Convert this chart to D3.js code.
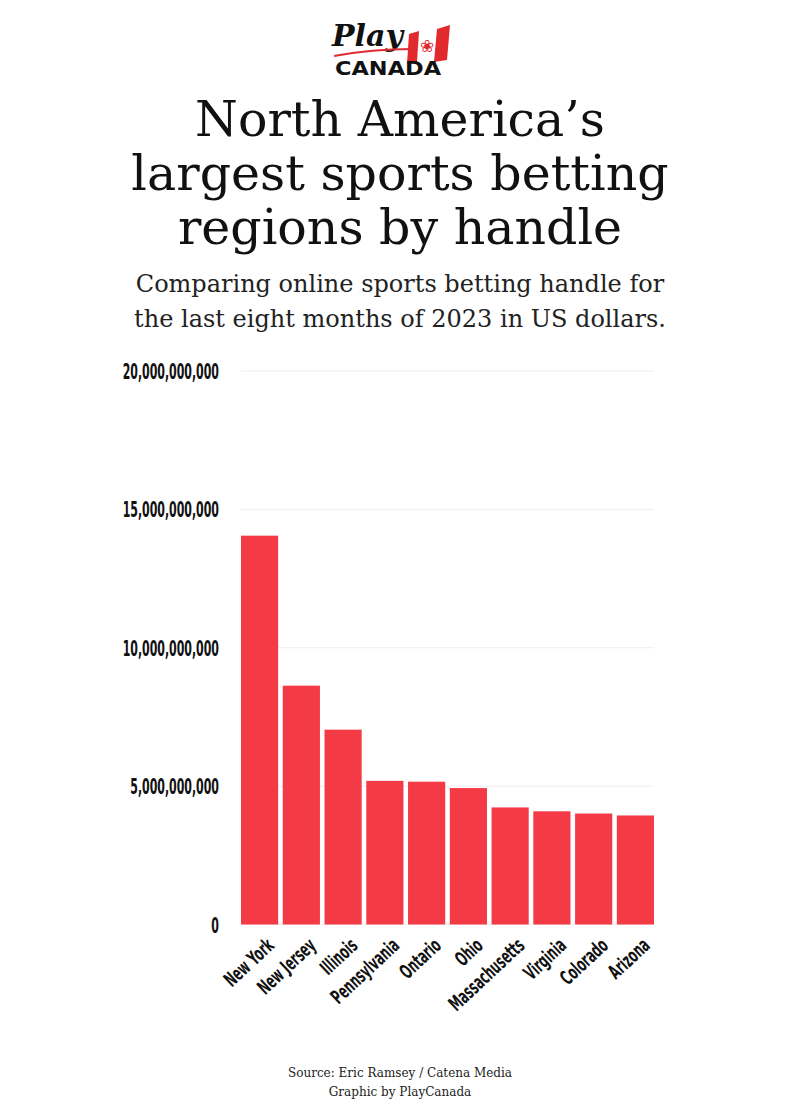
<!DOCTYPE html>
<html>
<head>
<meta charset="utf-8">
<script src="https://cdn.jsdelivr.net/npm/d3@7"></script>
<style>
  body { margin: 0; background: #fff; }
  svg { display: block; }
</style>
</head>
<body>
<div id="chart"></div>
<script>
'use strict';

const regions = ['New York', 'New Jersey', 'Illinois', 'Pennsylvania', 'Ontario', 'Ohio', 'Massachusetts', 'Virginia', 'Colorado', 'Arizona'];
const handle = [14050000000, 8630000000, 7040000000, 5190000000, 5160000000, 4930000000, 4230000000, 4090000000, 4010000000, 3940000000];
const yTicks = [0, 5000000000, 10000000000, 15000000000, 20000000000];
const titleLines = ['North America\u2019s', 'largest sports betting', 'regions by handle'];
const subtitleLines = ['Comparing online sports betting handle for', 'the last eight months of 2023 in US dollars.'];
const footerLines = ['Source: Eric Ramsey / Catena Media', 'Graphic by PlayCanada'];

const width = 800, height = 1120;
const margin = { top: 371, left: 241, right: 146, bottom: 196 };
const barColor = '#f43a45';
const condensed = "'DejaVu Sans Condensed', 'Liberation Sans Narrow', sans-serif";
const serif = "'DejaVu Serif', 'Liberation Serif', serif";

const svg = d3.select('#chart').append('svg')
  .attr('width', width)
  .attr('height', height);

// squeeze text horizontally, like a condensed display face
function squeeze(sel, factor) {
  sel.each(function () {
    const w = this.getComputedTextLength();
    d3.select(this)
      .attr('textLength', w * factor)
      .attr('lengthAdjust', 'spacingAndGlyphs');
  });
}

// logo
const logo = svg.append('g').attr('transform', 'translate(332, 20)');
logo.append('path')
  .attr('d', 'M77 14 L87 11 L85 42 L75 44 Z')
  .attr('fill', '#e02a2e');
logo.append('path')
  .attr('d', 'M105 9 L118 5 L115 40 L102 42 Z')
  .attr('fill', '#e02a2e');
logo.append('text')
  .attr('x', 95).attr('y', 32)
  .attr('text-anchor', 'middle')
  .attr('fill', '#e02a2e')
  .style('font-size', '17px')
  .text('\u2740');
logo.append('text')
  .attr('x', 0).attr('y', 26)
  .style('font-family', serif)
  .style('font-style', 'italic')
  .style('font-weight', 'bold')
  .style('font-size', '30px')
  .attr('fill', '#111')
  .text('Play');
logo.append('path')
  .attr('d', 'M2 36 Q40 29 80 29')
  .attr('fill', 'none')
  .attr('stroke', '#e02a2e')
  .attr('stroke-width', 2);
logo.append('text')
  .attr('x', 56).attr('y', 55)
  .attr('text-anchor', 'middle')
  .attr('textLength', 106)
  .attr('lengthAdjust', 'spacingAndGlyphs')
  .style('font-family', "'DejaVu Sans', sans-serif")
  .style('font-weight', 'bold')
  .style('font-size', '20px')
  .attr('fill', '#111')
  .text('CANADA');

// titles
svg.append('g').selectAll('text')
  .data(titleLines)
  .join('text')
  .attr('x', width / 2)
  .attr('y', (d, i) => 136 + i * 54)
  .attr('text-anchor', 'middle')
  .style('font-family', serif)
  .style('font-size', '49px')
  .attr('fill', '#111')
  .text(d => d);

svg.append('g').selectAll('text')
  .data(subtitleLines)
  .join('text')
  .attr('x', width / 2)
  .attr('y', (d, i) => 292 + i * 35)
  .attr('text-anchor', 'middle')
  .style('font-family', serif)
  .style('font-size', '24px')
  .attr('fill', '#222')
  .text(d => d);

// chart
const plotW = width - margin.left - margin.right;
const plotH = height - margin.top - margin.bottom;

const x = d3.scaleBand()
  .domain(regions)
  .range([0, plotW])
  .paddingInner(0.11)
  .paddingOuter(0);

const y = d3.scaleLinear()
  .domain([0, 20000000000])
  .range([plotH + 0.5, 0]);

const chart = svg.append('g')
  .attr('transform', `translate(${margin.left}, ${margin.top})`);

chart.append('g')
  .selectAll('line')
  .data(yTicks)
  .join('line')
  .attr('x1', 0)
  .attr('x2', plotW)
  .attr('y1', d => y(d))
  .attr('y2', d => y(d))
  .attr('stroke', '#eeeeee')
  .attr('stroke-width', 1);

const yAxis = d3.axisLeft(y)
  .tickValues(yTicks)
  .tickSize(0)
  .tickPadding(22)
  .tickFormat(d3.format(','));

chart.append('g')
  .call(yAxis)
  .call(g => g.select('.domain').remove())
  .call(g => g.selectAll('text')
    .attr('dy', '0.36em')
    .attr('fill', '#111')
    .style('font-family', condensed)
    .style('font-weight', 'bold')
    .style('font-size', '21px')
    .call(squeeze, 0.58));

chart.append('g')
  .selectAll('rect')
  .data(handle)
  .join('rect')
  .attr('x', (d, i) => x(regions[i]))
  .attr('y', d => y(d))
  .attr('width', x.bandwidth())
  .attr('height', d => y(0) - y(d))
  .attr('fill', barColor);

const xAxis = d3.axisBottom(x)
  .tickSize(0)
  .tickPadding(0);

chart.append('g')
  .attr('transform', `translate(0, ${plotH})`)
  .call(xAxis)
  .call(g => g.select('.domain').remove())
  .call(g => g.selectAll('text')
    .attr('text-anchor', 'end')
    .attr('transform', 'translate(11, 18) rotate(-43)')
    .attr('dy', '0.35em')
    .attr('fill', '#111')
    .style('font-family', condensed)
    .style('font-weight', 'bold')
    .style('font-size', '20px')
    .call(squeeze, 0.63));

// footer
svg.append('g').selectAll('text')
  .data(footerLines)
  .join('text')
  .attr('x', width / 2)
  .attr('y', (d, i) => 1077 + i * 19)
  .attr('text-anchor', 'middle')
  .style('font-family', serif)
  .style('font-size', '12px')
  .attr('fill', '#222')
  .text(d => d);
</script>
</body>
</html>
